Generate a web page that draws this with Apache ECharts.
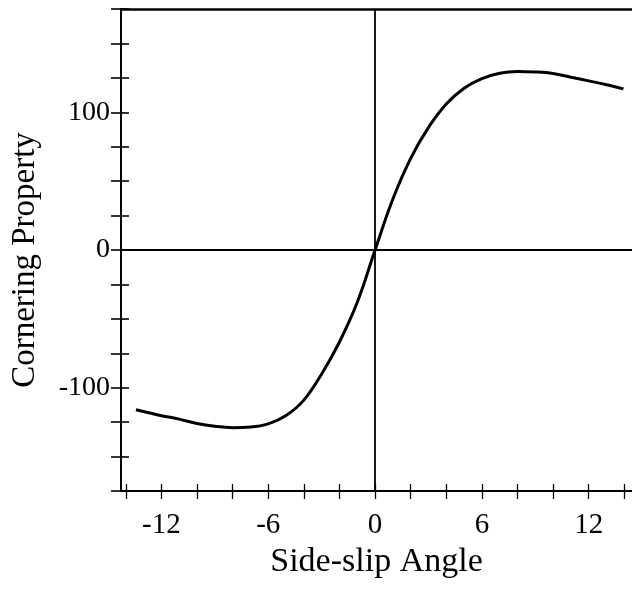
<!DOCTYPE html>
<html><head><meta charset="utf-8">
<script src="https://cdn.jsdelivr.net/npm/echarts@6/dist/echarts.min.js"></script>
<style>html,body{margin:0;padding:0;background:#fff}#c{width:632px;height:597px}</style>
</head><body><div id="c"></div>
<script>
var slipAngle = [-13.43,-12,-11,-10,-9,-8,-7,-6,-5,-4,-3,-2,-1,0,1,2,3,4,5,6,7,8,9,10,11,12,13,13.95];
var cornering = [-116,-120.3,-122.8,-126,-128,-129,-128.6,-126.3,-120.2,-109,-90,-66.8,-38,0,37,66.5,89,106,117.5,124.5,128.4,129.6,129.3,128.2,125.5,122.8,120,117];
var xTickValues = [-14,-12,-10,-8,-6,-4,-2,0,2,4,6,8,10,12,14];
var xTickLabels = [-12,-6,0,6,12];
var yTickLabels = [-100,0,100];
var xMin=-14.27, xMax=14.43, yMin=-175, yMax=175;
var F='"Liberation Serif","DejaVu Serif",serif';
var pts = slipAngle.map(function(x,i){return [x,cornering[i]];});
var chart = echarts.init(document.getElementById('c'));
function xax(extra){
  return Object.assign({type:'value',min:xMin,max:xMax,position:'bottom',
    axisLine:{show:true,onZero:false,lineStyle:{color:'#000',width:2}},
    axisTick:{show:true,length:8,customValues:xTickValues,lineStyle:{color:'#000',width:1.3}},
    axisLabel:{show:false},splitLine:{show:false}},extra);
}
function yax(extra){
  return Object.assign({type:'value',min:yMin,max:yMax,interval:25,position:'left',
    axisLine:{show:true,onZero:false,lineStyle:{color:'#000',width:2}},
    axisTick:{show:true,length:10,lineStyle:{color:'#000',width:1.6}},
    axisLabel:{show:false},splitLine:{show:false}},extra);
}
chart.setOption({
  animation:false,
  backgroundColor:'#fff',
  grid:{left:121,top:9,right:0,bottom:106},
  xAxis:[
    xax({axisLabel:{show:true,customValues:xTickLabels,fontFamily:F,fontSize:29,color:'#000',margin:20,
      formatter:function(v){return String(Math.round(v));}},
      name:'Side-slip Angle',nameLocation:'middle',nameGap:50,
      nameTextStyle:{fontFamily:F,fontSize:34,color:'#000'}}),
    xax({axisTick:{show:true,inside:true,length:7,customValues:xTickValues,lineStyle:{color:'#000',width:1.3}}}),
    xax({position:'top',axisTick:{show:false},axisLine:{show:true,onZero:false,lineStyle:{color:'#000',width:2.5}}})
  ],
  yAxis:[
    yax({axisLabel:{show:true,fontFamily:F,fontSize:28,color:'#000',margin:11,
      formatter:function(v){var r=Math.round(v);return yTickLabels.indexOf(r)>=0?String(r):'';}},
      name:'Cornering Property',nameLocation:'middle',nameGap:79,nameRotate:90,
      nameTextStyle:{fontFamily:F,fontSize:33,color:'#000',padding:[0,20,0,0]}}),
    yax({axisTick:{show:true,inside:true,length:8,lineStyle:{color:'#000',width:1.6}}})
  ],
  series:[{
    type:'line',data:pts,smooth:0.4,showSymbol:false,symbol:'none',
    lineStyle:{color:'#000',width:3},
    markLine:{silent:true,symbol:'none',label:{show:false},animation:false,
      lineStyle:{color:'#000',type:'solid',width:1.8},
      data:[{xAxis:0},{yAxis:0}]}
  }]
});
</script></body></html>
